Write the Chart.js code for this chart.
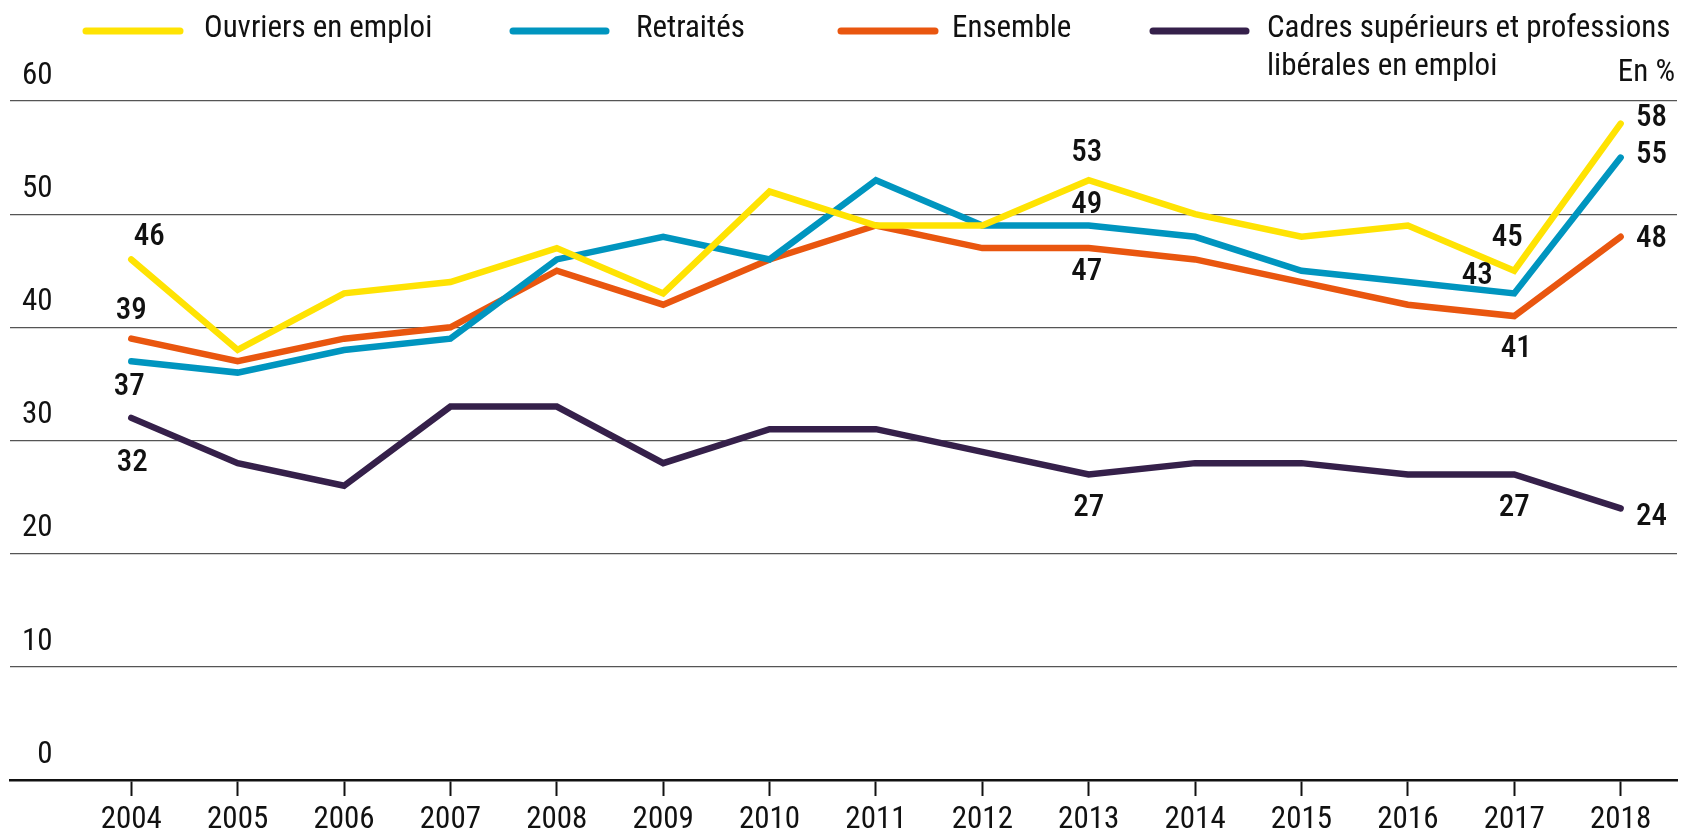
<!DOCTYPE html>
<html lang="fr">
<head>
<meta charset="utf-8">
<script src="https://cdn.jsdelivr.net/npm/chart.js@4"></script>
<style>
  html, body { margin: 0; padding: 0; background: #fff; }
  #wrap { width: 1683px; height: 833px; }
</style>
</head>
<body>
<div id="wrap"><canvas id="graph" width="1683" height="833"></canvas></div>
<script>
const years = [2004, 2005, 2006, 2007, 2008, 2009, 2010, 2011, 2012, 2013, 2014, 2015, 2016, 2017, 2018]
const ouvriers = [46, 38, 43, 44, 47, 43, 52, 49, 49, 53, 50, 48, 49, 45, 58]
const retraites = [37, 36, 38, 39, 46, 48, 46, 53, 49, 49, 48, 45, 44, 43, 55]
const ensemble = [39, 37, 39, 40, 45, 42, 46, 49, 47, 47, 46, 44, 42, 41, 48]
const cadres = [32, 28, 26, 33, 33, 28, 31, 31, 29, 27, 28, 28, 27, 27, 24]
const yTicks = [0, 10, 20, 30, 40, 50, 60]
const seriesNames = ['Ouvriers en emploi', 'Retraités', 'Ensemble', ['Cadres supérieurs et professions', 'libérales en emploi']]
const unitLabel = 'En %'

const colors = ['#FFE303', '#0095BF', '#E9560F', '#35204A']
const FONT = '"Roboto Condensed", "Liberation Sans Narrow", sans-serif'

Chart.defaults.font.family = FONT
Chart.defaults.font.size = 31
Chart.defaults.color = '#111'

// which values get a label, and where it sits relative to its point [series, year index, dx, dy]
const valueLabels = [
  [0, 0, 18, -22], [0, 9, -2, -27], [0, 13, -7, -33], [0, 14, 31, -5],
  [1, 0, -2, 26], [1, 9, -2, -20], [1, 13, -37, -17], [1, 14, 31, -2],
  [2, 0, 0, -27], [2, 9, -2, 24], [2, 13, 2, 33], [2, 14, 31, 2],
  [3, 0, 1, 45], [3, 9, 0, 34], [3, 13, 0, 34], [3, 14, 31, 9]
]

// legend: line start/end, text x, y
const legendPos = [
  { x1: 86, x2: 180, tx: 204 },
  { x1: 513, x2: 606, tx: 636 },
  { x1: 841, x2: 935, tx: 952 },
  { x1: 1153, x2: 1246, tx: 1267 }
]

const toPoints = values => years.map((year, i) => ({ x: year, y: values[i] }))

const lineSet = (label, values, color) => ({
  label,
  data: toPoints(values),
  borderColor: color,
  backgroundColor: color,
  borderWidth: 6.5,
  pointRadius: 0,
  tension: 0,
  borderCapStyle: 'round',
  borderJoinStyle: 'miter'
})

const valueText = {
  id: 'valueText',
  afterDatasetsDraw(chart) {
    const { ctx } = chart
    ctx.save()
    ctx.font = `500 31px ${FONT}`
    ctx.fillStyle = '#111'
    ctx.textAlign = 'center'
    ctx.textBaseline = 'middle'
    valueLabels.forEach(([ds, i, dx, dy]) => {
      const pt = chart.getDatasetMeta(ds).data[i]
      const v = chart.data.datasets[ds].data[i].y
      ctx.fillText(String(v), pt.x + dx, pt.y + dy)
    })
    ctx.restore()
  }
}

const topLegend = {
  id: 'topLegend',
  afterDraw(chart) {
    const { ctx } = chart
    ctx.save()
    ctx.font = `31px ${FONT}`
    ctx.fillStyle = '#111'
    ctx.textBaseline = 'middle'
    ctx.lineCap = 'round'
    ctx.lineWidth = 7
    legendPos.forEach((p, i) => {
      ctx.strokeStyle = colors[i]
      ctx.beginPath()
      ctx.moveTo(p.x1, 31)
      ctx.lineTo(p.x2, 31)
      ctx.stroke()
      const lines = [].concat(seriesNames[i])
      lines.forEach((t, k) => ctx.fillText(t, p.tx, 29 + k * 38))
    })
    ctx.textAlign = 'right'
    ctx.fillText(unitLabel, 1675, 73)
    ctx.restore()
  }
}

new Chart(document.getElementById('graph'), {
  type: 'line',
  plugins: [valueText, topLegend],
  data: {
    datasets: [
      lineSet(seriesNames[0], ouvriers, colors[0]),
      lineSet(seriesNames[1], retraites, colors[1]),
      lineSet(seriesNames[2], ensemble, colors[2]),
      lineSet(seriesNames[3].join(' '), cadres, colors[3])
    ]
  },
  options: {
    responsive: false,
    animation: false,
    layout: { padding: { top: 101, left: 10, right: 6, bottom: 0 } },
    plugins: { legend: { display: false }, tooltip: { enabled: false } },
    scales: {
      x: {
        type: 'linear',
        min: 2002.86,
        max: 2018.53,
        afterBuildTicks: s => { s.ticks = years.map(v => ({ value: v })) },
        afterFit: s => { s.height = 53 },
        ticks: { autoSkip: false, maxRotation: 0, padding: 6, callback: v => String(v) },
        grid: { drawOnChartArea: false, drawTicks: true, tickLength: 16, tickWidth: 2, tickColor: '#111' },
        border: { display: true, color: '#111', width: 2.5 }
      },
      y: {
        min: 0,
        max: 60,
        afterBuildTicks: s => { s.ticks = yTicks.map(v => ({ value: v })) },
        afterFit: s => { s.width = 0 },
        ticks: {
          mirror: true,
          padding: 12,
          labelOffset: -25,
          callback: v => (v < 10 ? '\u2007' : '') + v
        },
        grid: { color: '#555', lineWidth: 1.2, drawTicks: false },
        border: { display: false }
      }
    }
  }
})
</script>
</body>
</html>
